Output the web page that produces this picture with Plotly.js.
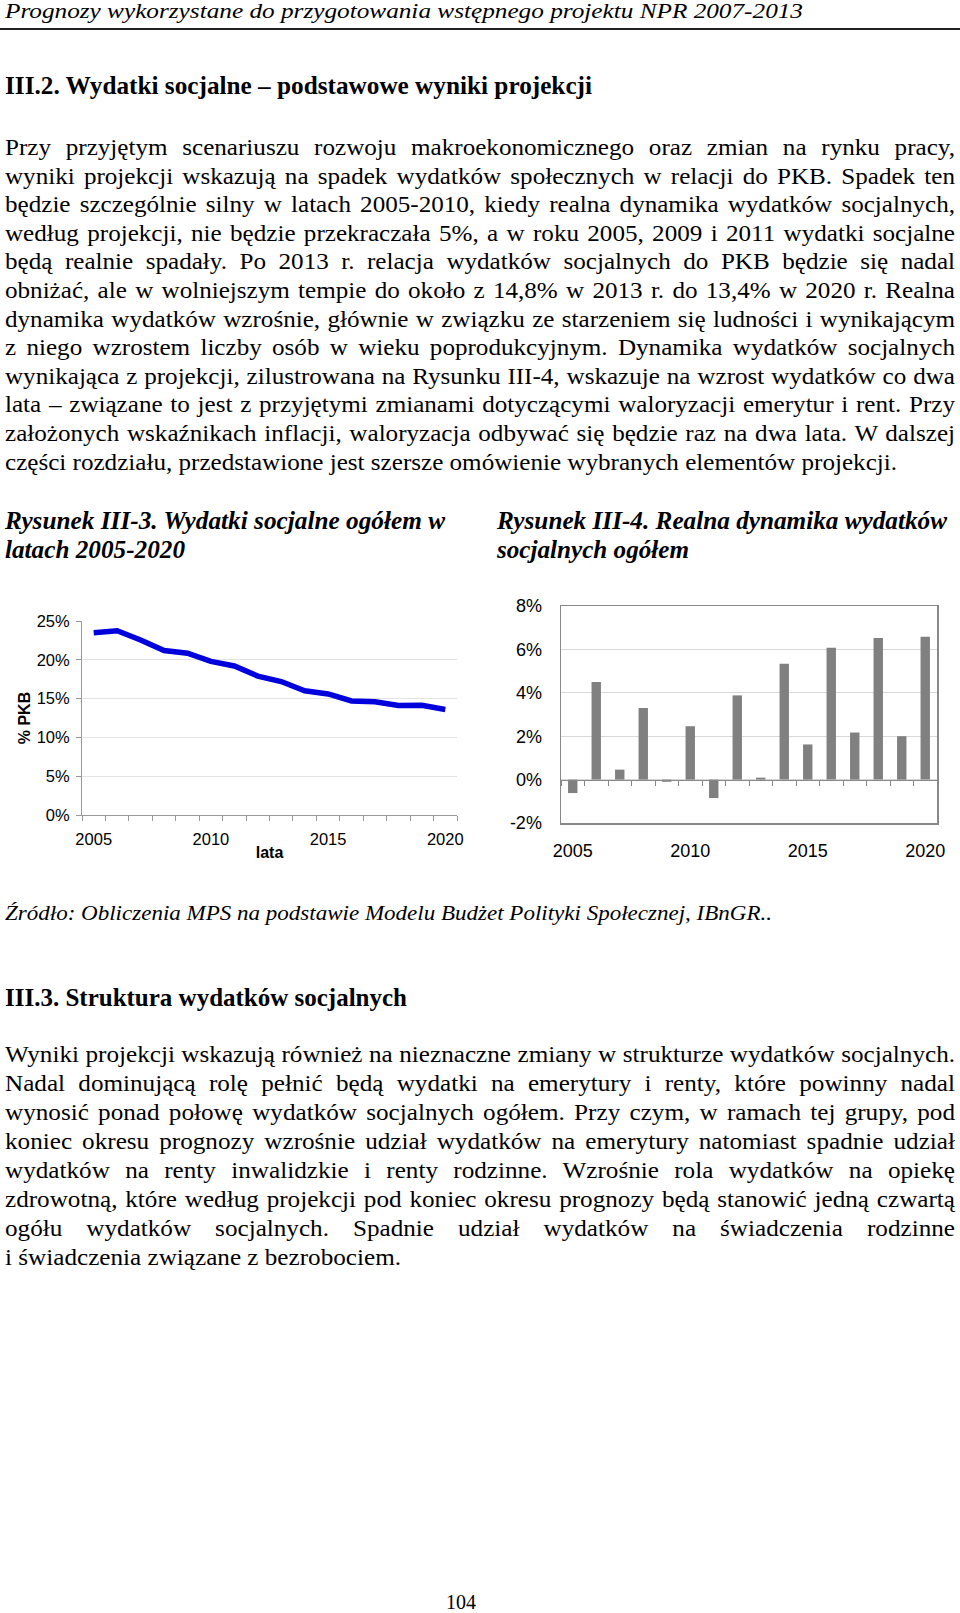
<!DOCTYPE html>
<html>
<head>
<meta charset="utf-8">
<script src="https://cdn.plot.ly/plotly-3.0.1.min.js"></script>
<style>
  html, body { margin:0; padding:0; background:#fff; }
  #page { position:relative; width:960px; height:1613px; overflow:hidden; background:#fff; }
  .ln { position:absolute; white-space:nowrap; color:#000; transform-origin:0 0; }
  #chart1 { position:absolute; left:0; top:580px; width:480px; height:300px; }
  #chart2 { position:absolute; left:490px; top:580px; width:470px; height:300px; }
  #rule { position:absolute; left:0; top:28px; width:960px; height:1.5px; background:#222; }
</style>
</head>
<body>
<div id="page">
  <div id="rule"></div>
  <div id="chart1"></div>
  <div id="chart2"></div>
</div>
<script>
// ---------- DATA ----------
const years = ["2005","2006","2007","2008","2009","2010","2011","2012","2013","2014","2015","2016","2017","2018","2019","2020"];
const yearLabels = ["2005","","","","","2010","","","","","2015","","","","","2020"];
// Rysunek III-3: Wydatki socjalne ogółem (% PKB)
const spendingShare = [23.5, 23.75, 22.55, 21.2, 20.85, 19.8, 19.2, 17.9, 17.2, 16.0, 15.6, 14.7, 14.6, 14.1, 14.15, 13.6];
const shareTicks = [0, 5, 10, 15, 20, 25];
// Rysunek III-4: Realna dynamika wydatków socjalnych ogółem (%)
const realGrowth = [-0.62, 4.5, 0.46, 3.3, -0.1, 2.46, -0.85, 3.88, 0.09, 5.34, 1.62, 6.08, 2.17, 6.52, 2.0, 6.58];
const growthTicks = [-2, 0, 2, 4, 6, 8];

// ---------- TEXT ----------
const headerText = "Prognozy wykorzystane do przygotowania wstępnego projektu NPR 2007-2013";
const heading1 = "III.2. Wydatki socjalne – podstawowe wyniki projekcji";
const para1Lines = [
  "Przy przyjętym scenariuszu rozwoju makroekonomicznego oraz zmian na rynku pracy,",
  "wyniki projekcji wskazują na spadek wydatków społecznych w relacji do PKB. Spadek ten",
  "będzie szczególnie silny w latach 2005-2010, kiedy realna dynamika wydatków socjalnych,",
  "według projekcji, nie będzie przekraczała 5%, a w roku 2005, 2009 i 2011 wydatki socjalne",
  "będą realnie spadały. Po 2013 r. relacja wydatków socjalnych do PKB będzie się nadal",
  "obniżać, ale w wolniejszym tempie do około z 14,8% w 2013 r. do 13,4% w 2020 r. Realna",
  "dynamika wydatków wzrośnie, głównie w związku ze starzeniem się ludności i wynikającym",
  "z niego wzrostem liczby osób w wieku poprodukcyjnym. Dynamika wydatków socjalnych",
  "wynikająca z projekcji, zilustrowana na Rysunku III-4, wskazuje na wzrost wydatków co dwa",
  "lata – związane to jest z przyjętymi zmianami dotyczącymi waloryzacji emerytur i rent. Przy",
  "założonych wskaźnikach inflacji, waloryzacja odbywać się będzie raz na dwa lata. W dalszej",
  "części rozdziału, przedstawione jest szersze omówienie wybranych elementów projekcji."
];
const caption1 = ["Rysunek III-3. Wydatki socjalne ogółem w", "latach 2005-2020"];
const caption2 = ["Rysunek III-4. Realna dynamika wydatków", "socjalnych ogółem"];
const sourceText = "Źródło: Obliczenia MPS na podstawie Modelu Budżet Polityki Społecznej, IBnGR..";
const heading2 = "III.3. Struktura wydatków socjalnych";
const para2Lines = [
  "Wyniki projekcji wskazują również na nieznaczne zmiany w strukturze wydatków socjalnych.",
  "Nadal dominującą rolę pełnić będą wydatki na emerytury i renty, które powinny nadal",
  "wynosić ponad połowę wydatków socjalnych ogółem. Przy czym, w ramach tej grupy, pod",
  "koniec okresu prognozy wzrośnie udział wydatków na emerytury natomiast spadnie udział",
  "wydatków na renty inwalidzkie i renty rodzinne. Wzrośnie rola wydatków na opiekę",
  "zdrowotną, które według projekcji pod koniec okresu prognozy będą stanowić jedną czwartą",
  "ogółu wydatków socjalnych. Spadnie udział wydatków na świadczenia rodzinne",
  "i świadczenia związane z bezrobociem."
];
const pageNumber = "104";

// ---------- FONT PICK ----------
function fontAvailable(name) {
  const c = document.createElement('canvas').getContext('2d');
  const probe = 'mmmmwwwwllliiiĄęŚ 0123';
  c.font = '40px monospace'; const a = c.measureText(probe).width;
  c.font = '40px "' + name + '", monospace'; const b = c.measureText(probe).width;
  c.font = '40px sans-serif'; const a2 = c.measureText(probe).width;
  c.font = '40px "' + name + '", sans-serif'; const b2 = c.measureText(probe).width;
  return a !== b || a2 !== b2;
}
const serifCandidates = ["Liberation Serif", "Times New Roman", "Tinos", "Nimbus Roman", "Nimbus Roman No9 L", "FreeSerif", "DejaVu Serif"];
const SERIF = serifCandidates.find(fontAvailable) || "serif";
const SERIF_STACK = '"' + SERIF + '", serif';

// ---------- TEXT LAYOUT ----------
const page = document.getElementById('page');
function makeLine(text, o) {
  const el = document.createElement('div');
  el.className = 'ln';
  el.textContent = text;
  el.style.fontFamily = SERIF_STACK;
  el.style.fontSize = o.fs + 'px';
  el.style.lineHeight = o.fs + 'px';
  el.style.fontWeight = o.bold ? 'bold' : 'normal';
  el.style.fontStyle = o.italic ? 'italic' : 'normal';
  el.style.top = (o.baseline - 0.8375 * o.fs) + 'px';
  el.style.left = o.left + 'px';
  page.appendChild(el);
  return el;
}
function natural(el) { return el.getBoundingClientRect().width; }
function fitLine(text, o) {
  const el = makeLine(text, o);
  const nw = natural(el);
  const s = (o.right - o.left) / nw;
  el.style.transform = 'scaleX(' + s + ')';
  return el;
}
function centerLine(text, o) {
  const el = makeLine(text, o);
  const nw = natural(el);
  el.style.left = (o.cx - nw / 2) + 'px';
  return el;
}
function paragraph(lines, o) {
  const els = lines.map((t, i) => makeLine(t, Object.assign({}, o, {baseline: o.baseline + i * o.step})));
  const last = els[els.length - 1];
  const sPar = (o.lastRight - o.left) / natural(last);
  last.style.transform = 'scaleX(' + sPar + ')';
  for (let i = 0; i < els.length - 1; i++) {
    const el = els[i];
    const nw = natural(el);
    const target = o.right - o.left;
    const spaces = (lines[i].match(/ /g) || []).length;
    if (nw * sPar >= target || spaces === 0) {
      el.style.transform = 'scaleX(' + (target / nw) + ')';
    } else {
      el.style.wordSpacing = ((target / sPar - nw) / spaces) + 'px';
      el.style.transform = 'scaleX(' + sPar + ')';
    }
  }
}

fitLine(headerText, {fs: 21, italic: true, left: 5, right: 803, baseline: 19});
fitLine(heading1, {fs: 25, bold: true, left: 5, right: 592, baseline: 94});
paragraph(para1Lines, {fs: 24, left: 5, right: 955, lastRight: 897, baseline: 155, step: 28.6});
fitLine(caption1[0], {fs: 25, bold: true, italic: true, left: 5, right: 445, baseline: 529});
fitLine(caption1[1], {fs: 25, bold: true, italic: true, left: 5, right: 185, baseline: 558});
fitLine(caption2[0], {fs: 25, bold: true, italic: true, left: 497, right: 947, baseline: 529});
fitLine(caption2[1], {fs: 25, bold: true, italic: true, left: 497, right: 689, baseline: 558});
fitLine(sourceText, {fs: 22, italic: true, left: 5, right: 772, baseline: 920});
fitLine(heading2, {fs: 25, bold: true, left: 5, right: 407, baseline: 1006});
paragraph(para2Lines, {fs: 24, left: 5, right: 955, lastRight: 401, baseline: 1062, step: 29});
centerLine(pageNumber, {fs: 20, cx: 461, baseline: 1609});

// ---------- CHART 1 ----------
const pct = v => v + '%';
const SANS = '"Liberation Sans", Arial, sans-serif';
Plotly.newPlot('chart1', [{
  type: 'scatter', mode: 'lines', x: years, y: spendingShare,
  line: {color: '#0000dd', width: 5.5}, hoverinfo: 'skip'
}], {
  width: 480, height: 300,
  margin: {l: 82, r: 23, t: 41, b: 65},
  paper_bgcolor: 'rgba(0,0,0,0)', plot_bgcolor: '#fff', showlegend: false,
  font: {family: SANS, size: 16, color: '#000'},
  xaxis: {
    type: 'category', categoryarray: years, range: [-0.5, years.length - 0.5],
    tickvals: years, ticktext: yearLabels, tickson: 'boundaries', tickangle: 0,
    ticks: 'outside', ticklen: 5, tickcolor: '#999', showline: true, linecolor: '#999',
    showgrid: false, zeroline: false, tickfont: {size: 16.5}, ticklabelstandoff: 9, automargin: false,
    title: {text: '<b>lata</b>', standoff: 0, font: {size: 16}}
  },
  yaxis: {
    range: [0, 25], tickvals: shareTicks, ticktext: shareTicks.map(pct),
    ticks: 'outside', ticklen: 5, tickcolor: '#999', showline: true, linecolor: '#999',
    gridcolor: '#e3e3e3', gridwidth: 1, zeroline: false, tickfont: {size: 16.5},
    ticklabelstandoff: 3, automargin: false,
    title: {text: '<b>% PKB</b>', standoff: 2, font: {size: 16}}
  }
}, {staticPlot: true, displayModeBar: false});

// ---------- CHART 2 ----------
const yMin = growthTicks[0], yMax = growthTicks[growthTicks.length - 1];
Plotly.newPlot('chart2', [{
  type: 'bar', x: years, y: realGrowth, marker: {color: '#808080'}, hoverinfo: 'skip'
}, {
  type: 'scatter', mode: 'none', x: years, y: realGrowth, xaxis: 'x2', hoverinfo: 'skip', showlegend: false
}], {
  width: 470, height: 300,
  margin: {l: 71, r: 23, t: 26, b: 57},
  paper_bgcolor: 'rgba(0,0,0,0)', plot_bgcolor: '#fff', showlegend: false,
  bargap: 0.6,
  font: {family: SANS, size: 18, color: '#000'},
  xaxis: {
    type: 'category', categoryarray: years, range: [-0.5, years.length - 0.5],
    tickvals: years, ticktext: yearLabels, ticks: '', showline: true, mirror: true, tickangle: 0,
    linecolor: '#888', linewidth: 1.5, showgrid: false, zeroline: false,
    tickfont: {size: 18}, ticklabelstandoff: 11, automargin: false
  },
  xaxis2: {
    type: 'category', categoryarray: years, range: [-0.5, years.length - 0.5],
    overlaying: 'x', anchor: 'free', position: (0 - yMin) / (yMax - yMin), side: 'bottom',
    tickvals: years, showticklabels: false, tickson: 'boundaries',
    ticks: 'outside', ticklen: 5, tickcolor: '#888', showline: true, linecolor: '#888', linewidth: 1,
    showgrid: false, zeroline: false
  },
  yaxis: {
    range: [yMin, yMax], tickvals: growthTicks, ticktext: growthTicks.map(pct),
    ticks: '', showline: true, mirror: true, linecolor: '#888', linewidth: 1.5,
    gridcolor: '#d9d9d9', gridwidth: 1, zeroline: false, tickfont: {size: 18},
    ticklabelstandoff: 14, automargin: false
  }
}, {staticPlot: true, displayModeBar: false});
</script>
</body>
</html>
